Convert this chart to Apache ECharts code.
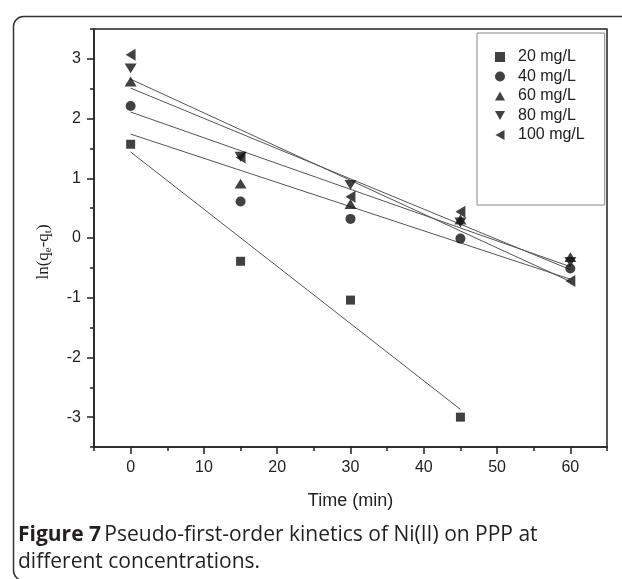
<!DOCTYPE html>
<html>
<head>
<meta charset="utf-8">
<script src="https://cdn.jsdelivr.net/npm/echarts@6/dist/echarts.min.js"></script>
<style>html,body{margin:0;padding:0;background:#fff;}#c{width:622px;height:579px;}</style>
</head>
<body>
<div id="c"></div>
<script>
// ---- data ----
const times = [0, 15, 30, 45, 60];
const times20 = [0, 15, 30, 45];
const names = ['20 mg/L', '40 mg/L', '60 mg/L', '80 mg/L', '100 mg/L'];
const s20 = [1.57, -0.39, -1.04, -3.00];
const s40 = [2.21, 0.61, 0.32, -0.01, -0.51];
const s60 = [2.62, 0.91, 0.57, 0.31, -0.32];
const s80 = [2.84, 1.36, 0.89, 0.26, -0.40];
const s100 = [3.07, 1.35, 0.69, 0.44, -0.72];
// fitted lines: values at first and last time
const fitT20 = [0, 45];
const fitT = [0, 60];
const fit20 = [1.44, -2.87];
const fit40 = [1.74, -0.69];
const fit60 = [2.11, -0.48];
const fit80 = [2.51, -0.53];
const fit100 = [2.66, -0.73];
// tick values
const xMajor = [0, 10, 20, 30, 40, 50, 60];
const xMinor = [-5, 5, 15, 25, 35, 45, 55, 65];
const yMajor = [-3, -2, -1, 0, 1, 2, 3];
const yMinor = [-3.5, -2.5, -1.5, -0.5, 0.5, 1.5, 2.5, 3.5];

const pair = (xs, ys) => xs.map((x, i) => [x, ys[i]]);

const triUp = 'path://M5,0 L10,9 L0,9 Z';
const triDown = 'path://M0,0 L10,0 L5,9 Z';
const triLeft = 'path://M0,5 L9,0 L9,10 Z';

const sets = [
  {name: names[0], t: times20, v: s20, ft: fitT20, fv: fit20, symbol: 'rect', size: 9},
  {name: names[1], t: times, v: s40, ft: fitT, fv: fit40, symbol: 'circle', size: 10},
  {name: names[2], t: times, v: s60, ft: fitT, fv: fit60, symbol: triUp, size: [12, 11]},
  {name: names[3], t: times, v: s80, ft: fitT, fv: fit80, symbol: triDown, size: [12, 11]},
  {name: names[4], t: times, v: s100, ft: fitT, fv: fit100, symbol: triLeft, size: [11, 12]}
];

const series = [];
sets.forEach(s => {
  series.push({
    name: s.name + ' fit', type: 'line', data: pair(s.ft, s.fv), showSymbol: false,
    lineStyle: {color: '#555', width: 1}, silent: true, z: 1, animation: false
  });
});
sets.forEach(s => {
  series.push({
    name: s.name, type: 'scatter', data: pair(s.t, s.v), symbol: s.symbol,
    symbolSize: s.size, symbolKeepAspect: true,
    itemStyle: {color: '#111'}, z: 3, animation: false
  });
});

const tickFont = {fontFamily: 'Liberation Sans, Arial, sans-serif', fontSize: 16, color: '#222'};

const option = {
  animation: false,
  backgroundColor: '#fff',
  grid: {left: 94, top: 29, width: 513, height: 418, show: true, borderColor: '#222', borderWidth: 1.5},
  legend: {
    data: sets.map(s => ({name: s.name, icon: s.symbol})),
    orient: 'vertical', left: 477, top: 33,
    padding: [16, 20, 62, 18], itemWidth: 10, itemHeight: 10, itemGap: 3.5,
    borderColor: '#888', borderWidth: 1,
    textStyle: {fontFamily: 'Liberation Sans, Arial, sans-serif', fontSize: 16, color: '#222', lineHeight: 16, padding: [0, 0, 0, 8]}
  },
  xAxis: [{
    type: 'value', min: -5, max: 65, gridIndex: 0, position: 'bottom',
    name: 'Time (min)', nameLocation: 'middle', nameGap: 45,
    nameTextStyle: {fontFamily: 'Liberation Sans, Arial, sans-serif', fontSize: 18, color: '#222'},
    axisLine: {show: true, onZero: false, lineStyle: {color: '#222', width: 1.5}},
    axisTick: {show: true, inside: false, length: 7, customValues: xMajor, lineStyle: {color: '#222', width: 1.5}},
    axisLabel: {customValues: xMajor, margin: 13, ...tickFont},
    splitLine: {show: false}
  }, {
    type: 'value', min: -5, max: 65, gridIndex: 0, position: 'bottom',
    axisLine: {show: false, onZero: false},
    axisTick: {show: true, inside: false, length: 4, customValues: xMinor, lineStyle: {color: '#222', width: 1.5}},
    axisLabel: {show: false},
    splitLine: {show: false}
  }],
  yAxis: [{
    type: 'value', min: -3.5, max: 3.5, gridIndex: 0, position: 'left',
    name: '{a|ln(q}{s|e}{a|-q}{s|t}{a|)}', nameLocation: 'middle', nameGap: 40, nameRotate: 90,
    nameTextStyle: {
      padding: [0, 0, 0, -28],
      rich: {
        a: {fontFamily: 'Liberation Serif, Times New Roman, serif', fontSize: 17, color: '#222'},
        s: {fontFamily: 'Liberation Serif, Times New Roman, serif', fontSize: 11, color: '#222', padding: [9, 0, 0, 0]}
      }
    },
    axisLine: {show: true, onZero: false, lineStyle: {color: '#222', width: 1.5}},
    axisTick: {show: true, inside: false, length: 7, customValues: yMajor, lineStyle: {color: '#222', width: 1.5}},
    axisLabel: {customValues: yMajor, margin: 13, ...tickFont},
    splitLine: {show: false}
  }, {
    type: 'value', min: -3.5, max: 3.5, gridIndex: 0, position: 'left',
    axisLine: {show: false, onZero: false},
    axisTick: {show: true, inside: false, length: 4, customValues: yMinor, lineStyle: {color: '#222', width: 1.5}},
    axisLabel: {show: false},
    splitLine: {show: false}
  }],
  series: series,
  graphic: [
    {type: 'rect', left: 11, top: 14, shape: {width: 700, height: 564, r: 10},
     style: {fill: 'none', stroke: '#333', lineWidth: 1.5}, silent: true, z: -1},
    {type: 'text', left: 18, top: 525,
     style: {
       text: '{b|Figure 7} {r|Pseudo-first-order kinetics of Ni(II) on PPP at}\n{r|different concentrations.}',
       rich: {
         b: {fontFamily: 'Open Sans, sans-serif', fontWeight: 'bold', fontSize: 21, lineHeight: 27, fill: '#231f20'},
         r: {fontFamily: 'Open Sans, sans-serif', fontSize: 21, lineHeight: 27, fill: '#231f20'}
       }
     }}
  ]
};

const chart = echarts.init(document.getElementById('c'), null, {renderer: 'canvas'});
chart.setOption(option);
</script>
</body>
</html>
